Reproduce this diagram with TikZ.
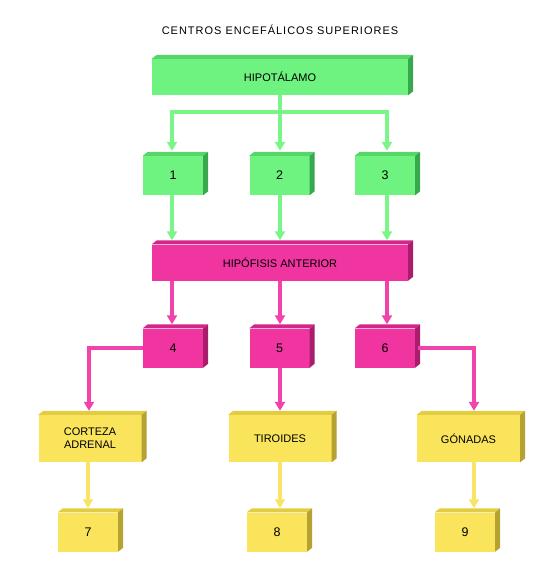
\documentclass[tikz,border=0pt]{standalone}
\usepackage{fontspec}
\setmainfont{Liberation Sans}
\usetikzlibrary{positioning,arrows.meta}

% front, top and side faces of the blocks, and the arrows
\definecolor{verdeF}{RGB}{110,242,128}
\definecolor{verdeT}{RGB}{86,214,104}
\definecolor{verdeS}{RGB}{56,168,78}
\definecolor{verdeA}{RGB}{122,245,136}
\definecolor{rosaF}{RGB}{240,52,160}
\definecolor{rosaT}{RGB}{212,38,138}
\definecolor{rosaS}{RGB}{170,28,108}
\definecolor{rosaA}{RGB}{242,66,172}
\definecolor{amarF}{RGB}{250,228,92}
\definecolor{amarT}{RGB}{226,204,66}
\definecolor{amarS}{RGB}{180,162,50}
\definecolor{amarA}{RGB}{250,228,104}

\begin{document}
\begin{tikzpicture}[
    x=1pt, y=-1pt,
    caja/.style={
        rectangle, fill=#1F, inner sep=1pt, align=center,
        minimum width=60, minimum height=39,
        font=\fontsize{12.5}{14}\selectfont
    },
    ancha/.style={caja=#1, minimum width=256, minimum height=36,
        font=\fontsize{11}{13}\selectfont},
    organo/.style={caja=amar, minimum width=103, minimum height=47,
        font=\fontsize{11}{13}\selectfont},
    flecha/.style={draw=#1, line width=3.8pt,
        -{Triangle[length=9pt,width=10pt]}}
]
\useasboundingbox (0,0) rectangle (551,582);

% Title
\node[font=\fontsize{11}{13}\selectfont\addfontfeatures{LetterSpace=9}]
    (titulo) at (280,30) {CENTROS ENCEF\'ALICOS SUPERIORES};

% Hypothalamus and its factors
\node[ancha=verde] (hipo) at (280,77) {HIPOT\'ALAMO};
\node[caja=verde] (n1) at (173,175.5) {1};
\node[caja=verde] (n2) at (279.5,175.5) {2};
\node[caja=verde] (n3) at (385,175.5) {3};

% Anterior pituitary and its hormones
\node[ancha=rosa] (hipof) at (280,262.5) {HIP\'OFISIS ANTERIOR};
\node[caja=rosa] (n4) at (173,348) {4};
\node[caja=rosa] (n5) at (279.5,348) {5};
\node[caja=rosa] (n6) at (385,348) {6};

% Target glands
\node[organo] (corteza) at (90,438.5) {CORTEZA\\ADRENAL};
\node[organo] (tiroides) at (280,438.5) {TIROIDES};
\node[organo] (gonadas) at (468.5,438.5) {G\'ONADAS};
\node[caja=amar] (n7) at (88,532) {7};
\node[caja=amar] (n8) at (277,532) {8};
\node[caja=amar] (n9) at (465,532) {9};

% Top and side faces
\foreach \n/\c in {hipo/verde, n1/verde, n2/verde, n3/verde,
    hipof/rosa, n4/rosa, n5/rosa, n6/rosa,
    corteza/amar, tiroides/amar, gonadas/amar,
    n7/amar, n8/amar, n9/amar} {
  \fill[\c T] (\n.north west) -- ++(5,-4)
    -- ([shift={(5,-4)}]\n.north east) -- (\n.north east) -- cycle;
  \fill[\c S] (\n.north east) -- ++(5,-4)
    -- ([shift={(5,-4)}]\n.south east) -- (\n.south east) -- cycle;
}

% Arrows: hypothalamus -> 1, 2, 3 -> pituitary
\draw[flecha=verdeA] (hipo.south) -- ++(0,17)
    -| ([xshift=-1pt,yshift=5pt]n1.north);
\draw[flecha=verdeA] (hipo.south) -- ++(0,17)
    -| ([xshift=2pt,yshift=5pt]n3.north);
\draw[flecha=verdeA] (hipo.south) -- ([yshift=5pt]hipo.south |- n2.north);
\foreach \n/\dx in {n1/-1, n2/0.5, n3/2}
  \draw[flecha=verdeA] ([xshift=\dx pt]\n.south)
    -- ([xshift=\dx pt,yshift=4pt]\n.south |- hipof.north);

% Arrows: pituitary -> 4, 5, 6 -> glands
\foreach \n/\dx in {n4/-1, n5/0.5, n6/2}
  \draw[flecha=rosaA] ([xshift=\dx pt]\n.north |- hipof.south)
    -- ([xshift=\dx pt,yshift=4pt]\n.north);
\draw[flecha=rosaA] (n4.west) -| ([xshift=-1pt,yshift=4pt]corteza.north);
\draw[flecha=rosaA] ([xshift=0.5pt]n5.south)
    -- ([xshift=0.5pt,yshift=4pt]n5.south |- tiroides.north);
\draw[flecha=rosaA] ([xshift=3pt]n6.east)
    -| ([xshift=5.5pt,yshift=4pt]gonadas.north);

% Arrows: glands -> 7, 8, 9
\draw[flecha=amarA] ([xshift=-2pt]corteza.south)
    -- ([xshift=-2pt,yshift=4pt]corteza.south |- n7.north);
\draw[flecha=amarA] (tiroides.south) -- ([yshift=4pt]tiroides.south |- n8.north);
\draw[flecha=amarA] ([xshift=5.5pt]gonadas.south)
    -- ([xshift=5.5pt,yshift=4pt]gonadas.south |- n9.north);

\end{tikzpicture}
\end{document}
